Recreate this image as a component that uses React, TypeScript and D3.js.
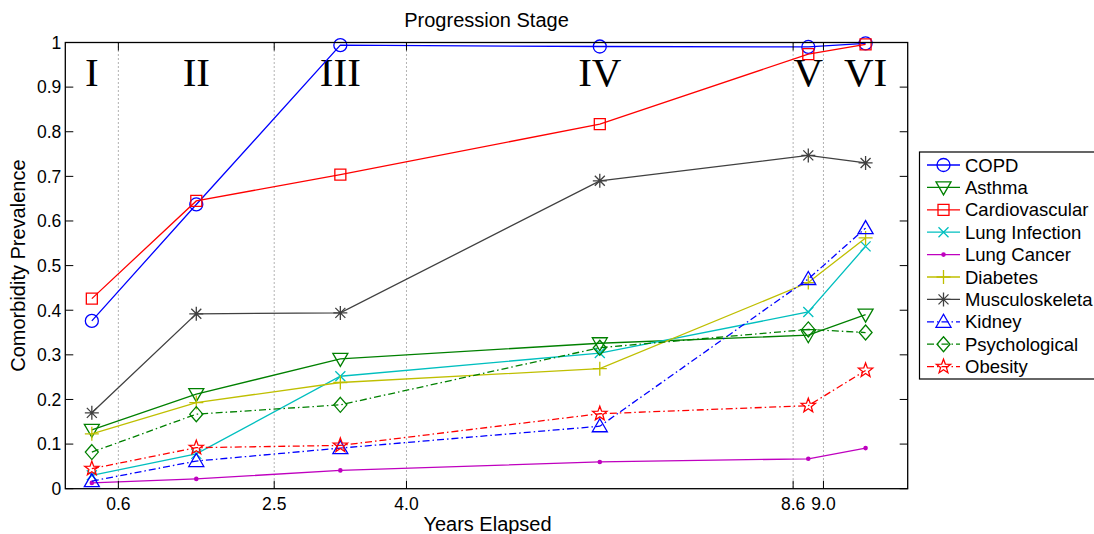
import React from 'react';
import * as d3 from 'd3';

// ---------- data ----------
const stageNames = ['I', 'II', 'III', 'IV', 'V', 'VI'];
const stageX = [0.315, 1.555, 3.265, 6.345, 8.82, 9.5];
const boundaryTicks = [0.63, 2.48, 4.05, 8.64, 9.0];
const boundaryLabels = ['0.6', '2.5', '4.0', '8.6', '9.0'];
const yTicks = [0, 0.1, 0.2, 0.3, 0.4, 0.5, 0.6, 0.7, 0.8, 0.9, 1];
const yTickLabels = ['0', '0.1', '0.2', '0.3', '0.4', '0.5', '0.6', '0.7', '0.8', '0.9', '1'];

const seriesNames = ['COPD', 'Asthma', 'Cardiovascular', 'Lung Infection', 'Lung Cancer', 'Diabetes', 'Musculoskeleta', 'Kidney', 'Psychological', 'Obesity'];
const copd = [0.376, 0.637, 0.994, 0.991, 0.99, 0.998];
const asthma = [0.132, 0.212, 0.291, 0.326, 0.344, 0.39];
const cardiovascular = [0.426, 0.645, 0.704, 0.817, 0.974, 0.996];
const lungInfection = [0.03, 0.078, 0.252, 0.304, 0.396, 0.543];
const lungCancer = [0.013, 0.022, 0.041, 0.06, 0.067, 0.091];
const diabetes = [0.123, 0.193, 0.238, 0.269, 0.462, 0.562];
const musculoskeletal = [0.17, 0.392, 0.394, 0.69, 0.747, 0.73];
const kidney = [0.017, 0.062, 0.091, 0.14, 0.47, 0.584];
const psychological = [0.082, 0.167, 0.188, 0.316, 0.357, 0.35];
const obesity = [0.045, 0.092, 0.097, 0.168, 0.186, 0.265];

const seriesValues = [copd, asthma, cardiovascular, lungInfection, lungCancer, diabetes, musculoskeletal, kidney, psychological, obesity];
const seriesColors = ['#0000ff', '#008000', '#ff0000', '#00bfbf', '#bf00bf', '#bfbf00', '#404040', '#0000ff', '#008000', '#ff0000'];
const seriesMarkers = ['circle', 'triDown', 'square', 'x', 'dot', 'plus', 'asterisk', 'triUp', 'diamond', 'star'];
const seriesDashed = [false, false, false, false, false, false, false, true, true, true];

// ---------- layout ----------
const W = 1094;
const H = 534;
const plot = { left: 65.3, right: 907.7, top: 42.5, bottom: 488.7 };
const FONT = '"Liberation Sans", Arial, Helvetica, sans-serif';
const SERIF = '"Liberation Serif", "Times New Roman", Times, serif';

function markerPath(type: string): string {
  switch (type) {
    case 'circle': {
      const r = 6.5;
      return `M${-r},0A${r},${r} 0 1,0 ${r},0A${r},${r} 0 1,0 ${-r},0Z`;
    }
    case 'square': {
      const s = 5.5;
      return `M${-s},${-s}H${s}V${s}H${-s}Z`;
    }
    case 'triDown':
      return 'M-7.5,-5.5L7.5,-5.5L0,7.5Z';
    case 'triUp':
      return 'M-7.5,5.5L7.5,5.5L0,-7.5Z';
    case 'diamond':
      return 'M0,-7.5L6.5,0L0,7.5L-6.5,0Z';
    case 'x':
      return 'M-5,-5L5,5M-5,5L5,-5';
    case 'plus':
      return 'M-7,0H7M0,-7V7';
    case 'asterisk':
      return 'M-7,0H7M0,-7V7M-5,-5L5,5M-5,5L5,-5';
    case 'star': {
      const pts: string[] = [];
      for (let i = 0; i < 10; i++) {
        const r = i % 2 === 0 ? 7.5 : 3.1;
        const a = -Math.PI / 2 + (i * Math.PI) / 5;
        pts.push(`${(r * Math.cos(a)).toFixed(2)},${(r * Math.sin(a)).toFixed(2)}`);
      }
      return 'M' + pts.join('L') + 'Z';
    }
    default:
      return '';
  }
}

function Marker({ type, color, x, y }: { type: string; color: string; x: number; y: number }) {
  if (type === 'dot') {
    return <circle cx={x} cy={y} r={2.3} fill={color} />;
  }
  return (
    <path
      d={markerPath(type)}
      transform={`translate(${x},${y})`}
      fill="none"
      stroke={color}
      strokeWidth={1.3}
    />
  );
}

export default function App() {
  const x = d3.scaleLinear().domain([0, 10]).range([plot.left, plot.right]);
  const y = d3.scaleLinear().domain([0, 1]).range([plot.bottom, plot.top]);
  const line = d3
    .line<number>()
    .x((_, i) => x(stageX[i]))
    .y((v) => y(v));

  const legend = { left: 919.5, top: 152, rowH: 22.4, firstY: 165 };

  return (
    <svg
      width={W}
      height={H}
      viewBox={`0 0 ${W} ${H}`}
      style={{ position: 'absolute', left: 0, top: 0, background: '#fff' }}
    >
      <rect x={0} y={0} width={W} height={H} fill="#fff" />

      {/* vertical dotted boundaries */}
      {boundaryTicks.map((t, i) => (
        <line
          key={'g' + i}
          x1={x(t)}
          x2={x(t)}
          y1={plot.top}
          y2={plot.bottom}
          stroke="#555"
          strokeWidth={0.9}
          strokeDasharray="1,3"
        />
      ))}

      {/* stage labels */}
      {stageNames.map((s, i) => (
        <text
          key={'s' + i}
          x={x(stageX[i])}
          y={86}
          textAnchor="middle"
          fontFamily={SERIF}
          fontSize={41}
          fill="#000"
        >
          {s}
        </text>
      ))}

      {/* series */}
      {seriesValues.map((vals, si) => (
        <g key={'ser' + si}>
          <path
            d={line(vals) || ''}
            fill="none"
            stroke={seriesColors[si]}
            strokeWidth={1.3}
            strokeDasharray={seriesDashed[si] ? '7,3,1.5,3' : undefined}
          />
          {vals.map((v, i) => (
            <Marker key={i} type={seriesMarkers[si]} color={seriesColors[si]} x={x(stageX[i])} y={y(v)} />
          ))}
        </g>
      ))}

      {/* axes box */}
      <rect
        x={plot.left}
        y={plot.top}
        width={plot.right - plot.left}
        height={plot.bottom - plot.top}
        fill="none"
        stroke="#000"
        strokeWidth={1.3}
      />

      {/* y ticks */}
      {yTicks.map((t, i) => (
        <g key={'yt' + i}>
          <line x1={plot.left} x2={plot.left + 8} y1={y(t)} y2={y(t)} stroke="#000" strokeWidth={1} />
          <line x1={plot.right} x2={plot.right - 8} y1={y(t)} y2={y(t)} stroke="#000" strokeWidth={1} />
          <text
            x={plot.left - 4}
            y={y(t)}
            dy="0.36em"
            textAnchor="end"
            fontFamily={FONT}
            fontSize={17.5}
            fill="#000"
          >
            {yTickLabels[i]}
          </text>
        </g>
      ))}

      {/* x ticks */}
      {boundaryTicks.map((t, i) => (
        <g key={'xt' + i}>
          <line x1={x(t)} x2={x(t)} y1={plot.bottom} y2={plot.bottom - 8} stroke="#000" strokeWidth={1} />
          <line x1={x(t)} x2={x(t)} y1={plot.top} y2={plot.top + 8} stroke="#000" strokeWidth={1} />
          <text
            x={x(t)}
            y={510}
            textAnchor="middle"
            fontFamily={FONT}
            fontSize={17.5}
            fill="#000"
          >
            {boundaryLabels[i]}
          </text>
        </g>
      ))}

      {/* titles */}
      <text x={(plot.left + plot.right) / 2} y={27} textAnchor="middle" fontFamily={FONT} fontSize={20} fill="#000">
        Progression Stage
      </text>
      <text x={(plot.left + plot.right) / 2 + 1} y={531} textAnchor="middle" fontFamily={FONT} fontSize={20} fill="#000">
        Years Elapsed
      </text>
      <text
        transform={`translate(25,${(plot.top + plot.bottom) / 2}) rotate(-90)`}
        textAnchor="middle"
        fontFamily={FONT}
        fontSize={20}
        fill="#000"
      >
        Comorbidity Prevalence
      </text>

      {/* legend */}
      <rect x={legend.left} y={legend.top} width={220} height={227} fill="#fff" stroke="#000" strokeWidth={1.2} />
      {seriesNames.map((name, i) => {
        const cy = legend.firstY + i * legend.rowH;
        return (
          <g key={'lg' + i}>
            <line
              x1={927}
              x2={960}
              y1={cy}
              y2={cy}
              stroke={seriesColors[i]}
              strokeWidth={1.3}
              strokeDasharray={seriesDashed[i] ? '7,3,1.5,3' : undefined}
            />
            <Marker type={seriesMarkers[i]} color={seriesColors[i]} x={943.5} y={cy} />
            <text x={965} y={cy} dy="0.36em" fontFamily={FONT} fontSize={18.5} fill="#000">
              {name}
            </text>
          </g>
        );
      })}
    </svg>
  );
}
